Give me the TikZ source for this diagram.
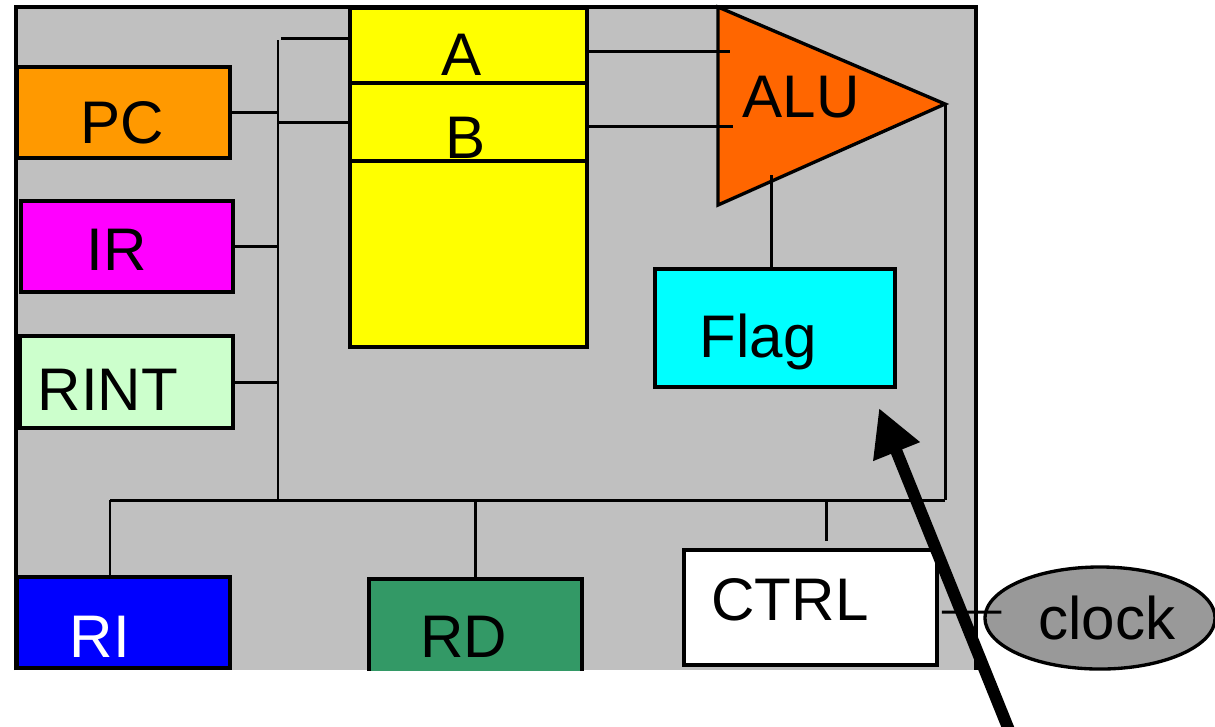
\documentclass[tikz,border=0pt]{standalone}
\usepackage{fontspec}
\setmainfont{Liberation Sans}
\usetikzlibrary{arrows.meta,shapes.geometric}

\definecolor{panelgray}{HTML}{C0C0C0}
\definecolor{pcorange}{HTML}{FF9900}
\definecolor{irmagenta}{HTML}{FF00FF}
\definecolor{rintgreen}{HTML}{CCFFCC}
\definecolor{riblue}{HTML}{0000FF}
\definecolor{rdgreen}{HTML}{339966}
\definecolor{regyellow}{HTML}{FFFF00}
\definecolor{aluorange}{HTML}{FF6600}
\definecolor{flagcyan}{HTML}{00FFFF}
\definecolor{clockgray}{HTML}{999999}

\begin{document}
\begin{tikzpicture}[x=0.01cm, y=-0.01cm,
        box/.style={draw=black, line width=0.95pt, inner sep=0pt},
        wire/.style={draw=black, line width=0.85pt},
        txt/.style={anchor=base, inner sep=0pt, font=\fontsize{17.1}{20}\selectfont}]
        \useasboundingbox (0,0) rectangle (1215,726);

        % panel
        \fill[panelgray] (16,7) rectangle (976,670);
        \draw[line width=0.95pt] (16,670) -- (16,7) -- (976,7) -- (976,670);

        % registers on the left
        \node[box, fill=pcorange, minimum width=2.13cm, minimum height=0.91cm] (pc) at (123.5,112.5) {};
        \node[box, fill=irmagenta, minimum width=2.12cm, minimum height=0.91cm] (ir) at (127,246.5) {};
        \node[box, fill=rintgreen, minimum width=2.13cm, minimum height=0.92cm] (rint) at (126.5,382) {};
        \node[box, fill=riblue, minimum width=2.13cm, minimum height=0.91cm] (ri) at (123.5,622.5) {};
        \begin{scope}
            \clip (16,7) rectangle (976,670);
            \node[box, fill=rdgreen, minimum width=2.13cm, minimum height=1.01cm] (rd) at (475.5,629.5) {};
        \end{scope}
        \node[box, fill=white, minimum width=2.53cm, minimum height=1.15cm] (ctrl) at (810.5,607.5) {};
        \node[box, fill=flagcyan, minimum width=2.40cm, minimum height=1.18cm] (flag) at (775,328) {};
        \node[box, ellipse, fill=clockgray, minimum width=2.30cm, minimum height=1.02cm] (clock) at (1100,618) {};

        % register file
        \node[box, fill=regyellow, minimum width=2.37cm, minimum height=0.75cm] (regA) at (468.5,45.5) {};
        \node[box, fill=regyellow, minimum width=2.37cm, minimum height=0.78cm] (regB) at (468.5,122) {};
        \node[box, fill=regyellow, minimum width=2.37cm, minimum height=1.86cm] (regC) at (468.5,254) {};

        % ALU
        \coordinate (alutop) at (718,7);
        \coordinate (alubot) at (718,205);
        \coordinate (alutip) at (945,104);
        \draw[line width=0.95pt, fill=aluorange] (alutop) -- (alutip) -- (alubot) -- cycle;

        % texts
        \node[txt] (pctxt) at (122,143) {PC};
        \node[txt] (irtxt) at (117,270) {IR};
        \node[txt] (rinttxt) at (108,410) {RINT};
        \node[txt, text=white] (ritxt) at (100,657) {RI};
        \node[txt] (rdtxt) at (464,657) {RD};
        \node[txt] (ctrltxt) at (790,620) {CTRL};
        \node[txt] (flagtxt) at (758,357) {Flag};
        \node[txt] (atxt) at (462,75) {A};
        \node[txt] (btxt) at (466,158) {B};
        \node[txt] (alutxt) at (801,117) {ALU};
        \node[txt] (clocktxt) at (1107,639) {clock};

        % internal bus
        \coordinate (bustop) at (281,38);
        \coordinate (busup) at (278,40);
        \coordinate (busleft) at (110,500);
        \coordinate (busright) at (945,500);
        \draw[wire] (busup) -- (busup |- busleft);
        \draw[wire] (busleft) -- (busright);
        \draw[wire] (bustop) -- (bustop -| regA.west);
        \draw[wire] (busup |- regB.west) -- (regB.west);
        \draw[wire] (pc.east) -- (pc.east -| busup);
        \draw[wire] (ir.east) -- (ir.east -| busup);
        \draw[wire] (rint.east) -- (rint.east -| busup);
        \draw[wire] (busleft) -- (busleft |- ri.north);
        \draw[wire] (rd.north |- busleft) -- (rd.north);
        \draw[wire] ([xshift=0.16cm]ctrl.north |- busleft) -- ([xshift=0.16cm, yshift=0.07cm]ctrl.north);

        % ALU connections
        \coordinate (aluinA) at (730,51);
        \coordinate (aluinB) at (733,126);
        \coordinate (aluflag) at (771,175);
        \draw[wire] (aluinA -| regA.east) -- (aluinA);
        \draw[wire] (aluinB -| regB.east) -- (aluinB);
        \draw[wire] (alutip) -- (busright);
        \draw[wire] (aluflag) -- (aluflag |- flag.north);
        \draw[wire] ([xshift=0.03cm, yshift=-0.045cm]ctrl.east) -- ([xshift=0.18cm, yshift=0.06cm]clock.west);

        % big arrow
        \coordinate (arrowfoot) at (1015,745);
        \coordinate (arrowtip) at (879,408);
        \draw[line width=0.12cm, -{Triangle[length=0.47cm, width=0.47cm]}] (arrowfoot) -- (arrowtip);
\end{tikzpicture}
\end{document}
